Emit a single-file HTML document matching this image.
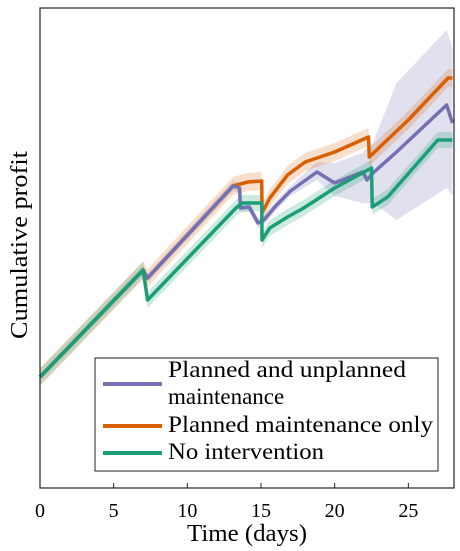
<!DOCTYPE html>
<html><head><meta charset="utf-8"><style>
body{margin:0;background:#fff}
svg{display:block;font-family:"Liberation Serif",serif}
</style></head><body>
<svg id="chart" width="460" height="551">
<g id="bands"></g>
<g id="lines"></g>
<rect x="40" y="8" width="414" height="480" fill="none" stroke="#222" stroke-width="1.2"/>
<g id="xticks"></g>
<text x="247" y="541" font-size="24" text-anchor="middle" textLength="120" lengthAdjust="spacingAndGlyphs">Time (days)</text>
<text transform="translate(27,245) rotate(-90)" font-size="24" text-anchor="middle" textLength="188" lengthAdjust="spacingAndGlyphs">Cumulative profit</text>
<g>
<rect x="95" y="358" width="343" height="113" fill="#fff" stroke="#222" stroke-width="1"/>
<line x1="103" y1="384" x2="162" y2="384" stroke="#7570b3" stroke-width="4"/>
<text x="168" y="377" font-size="23" textLength="238" lengthAdjust="spacingAndGlyphs">Planned and unplanned</text>
<text x="168" y="404" font-size="23">maintenance</text>
<line x1="103" y1="426" x2="162" y2="426" stroke="#d95f02" stroke-width="4"/>
<text x="168" y="432" font-size="23" textLength="265" lengthAdjust="spacingAndGlyphs">Planned maintenance only</text>
<line x1="103" y1="453" x2="162" y2="453" stroke="#1b9e77" stroke-width="4"/>
<text x="168" y="459" font-size="23" textLength="156" lengthAdjust="spacingAndGlyphs">No intervention</text>
</g>
</svg>
<script>
const xTicks=[0,5,10,15,20,25];
const orangeDays=[0,7,7.3,13.1,14.1,15.05,15.07,15.6,16.8,18,20,22.3,22.35,25,27.7,28];
const orangeVals=[111,218,210,302,306,307,275,290,313,326,336,351,331,368,410,410];
const greenDays=[0,7,7.3,13.3,13.7,15.05,15.07,15.6,16.8,17.9,20,22.5,22.55,23.6,27,28];
const greenVals=[111,218,188,280,285,285,248,260,271,280,300,320,281,291,348,348];
const purpleDays=[0,7,7.3,13.1,13.55,13.6,14.2,14.8,15.2,16,17,18.8,20,21.9,22.2,22.6,24.2,27.6,28];
const purpleVals=[111,218,210,302,300,280,281,265,268,282,297,316,305,316,308,315,336,383,365];
const purpleLo=[108,214,206,297,295,275,276,260,263,277,292,308,292,285,285,285,268,300,292];
const purpleHi=[114,222,214,307,305,285,286,270,273,287,302,326,325,335,340,345,405,458,440];
const orangeHalf=9, greenHalf=8;
const X=d=>40+d*(414/28.1);
const Y=v=>488-v;
const NS="http://www.w3.org/2000/svg";
const bands=document.getElementById('bands'), lines=document.getElementById('lines');
function band(days,lo,hi,color,name){
  let pts=days.map((d,i)=>X(d)+','+Y(hi[i]));
  for(let i=days.length-1;i>=0;i--)pts.push(X(days[i])+','+Y(lo[i]));
  const p=document.createElementNS(NS,'polygon');
  p.setAttribute('points',pts.join(' '));
  p.setAttribute('fill',color);
  
  
  bands.appendChild(p);
}
function line(days,vals,color,name){
  const p=document.createElementNS(NS,'polyline');
  p.setAttribute('points',days.map((d,i)=>X(d)+','+Y(vals[i])).join(' '));
  p.setAttribute('fill','none');p.setAttribute('stroke',color);p.setAttribute('stroke-width','3.5');
  p.setAttribute('stroke-linejoin','round');
  
  
  lines.appendChild(p);
}
band(purpleDays,purpleLo,purpleHi,'rgba(117,112,179,0.22)','band-planned-unplanned');
band(orangeDays,orangeVals.map(v=>v-orangeHalf),orangeVals.map(v=>v+orangeHalf),'rgba(217,95,2,0.2)','band-planned-only');
band(greenDays,greenVals.map(v=>v-greenHalf),greenVals.map(v=>v+greenHalf),'rgba(27,158,119,0.22)','band-no-intervention');
line(orangeDays,orangeVals,'#d95f02','line-planned-only');
line(purpleDays,purpleVals,'#7570b3','line-planned-unplanned');
line(greenDays,greenVals,'#1b9e77','line-no-intervention');
const xt=document.getElementById('xticks');
xTicks.forEach(t=>{
  const l=document.createElementNS(NS,'line');
  l.setAttribute('x1',X(t));l.setAttribute('x2',X(t));l.setAttribute('y1',488);l.setAttribute('y2',483);
  l.setAttribute('stroke','#222');
  
  
  xt.appendChild(l);
  const tx=document.createElementNS(NS,'text');
  tx.setAttribute('x',X(t));tx.setAttribute('y',517);tx.setAttribute('font-size','20');tx.setAttribute('text-anchor','middle');
  tx.textContent=t;
  
  
  xt.appendChild(tx);
});
</script>
</body></html>
